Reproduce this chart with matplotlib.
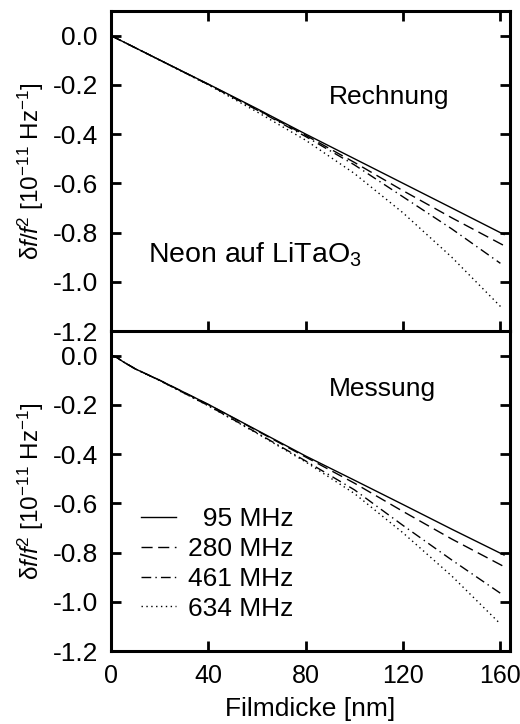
import matplotlib
matplotlib.use("Agg")
import matplotlib.pyplot as plt

plt.rcParams.update({
    "font.family": ["Liberation Sans", "DejaVu Sans"],
    "font.size": 19,
    "mathtext.fontset": "custom",
    "mathtext.rm": "Liberation Sans",
    "mathtext.it": "Liberation Sans:italic",
    "axes.linewidth": 2.2,
})

FREQS = ["95 MHz", "280 MHz", "461 MHz", "634 MHz"]

# calculated curves (Rechnung)
X_CALC = [
    [0, 20, 40, 60, 80, 100, 120, 140, 161.5],
    [0, 20, 40, 60, 80, 100, 120, 140, 161.5],
    [0, 20, 40, 60, 80, 100, 120, 140, 160],
    [0, 20, 40, 60, 80, 100, 120, 140, 161],
]
Y_CALC = [
    [0, -0.099, -0.197, -0.297, -0.400, -0.500, -0.600, -0.700, -0.808],
    [0, -0.099, -0.198, -0.300, -0.405, -0.515, -0.630, -0.740, -0.853],
    [0, -0.099, -0.199, -0.302, -0.410, -0.525, -0.655, -0.785, -0.925],
    [0, -0.100, -0.200, -0.310, -0.425, -0.560, -0.720, -0.900, -1.110],
]

# measured curves (Messung)
X_MEAS = [
    [0, 2, 5, 10, 20, 40, 60, 80, 100, 120, 140, 161.5],
    [0, 2, 5, 10, 20, 40, 60, 80, 100, 120, 140, 161.5],
    [0, 2, 5, 10, 20, 40, 60, 80, 100, 120, 140, 161],
    [0, 2, 5, 10, 20, 40, 60, 80, 100, 120, 140, 160],
]
Y_MEAS = [
    [0, -0.005, -0.025, -0.054, -0.100, -0.198, -0.303, -0.408, -0.506, -0.605, -0.705, -0.810],
    [0, -0.005, -0.025, -0.054, -0.100, -0.199, -0.305, -0.412, -0.518, -0.633, -0.745, -0.857],
    [0, -0.005, -0.025, -0.054, -0.101, -0.203, -0.314, -0.428, -0.545, -0.690, -0.830, -0.972],
    [0, -0.005, -0.025, -0.054, -0.101, -0.204, -0.316, -0.432, -0.560, -0.720, -0.895, -1.090],
]

STYLES = [
    dict(linestyle="-"),
    dict(linestyle=(0, (8, 4))),
    dict(linestyle=(0, (7, 3, 1, 3))),
    dict(linestyle=(0, (1, 2.5))),
]

YTICKS = [0.0, -0.2, -0.4, -0.6, -0.8, -1.0, -1.2]
YLABEL = "δ$f$/$f$$^2$ [10$^{-11}$ Hz$^{-1}$]"


def style_axes(ax, top_ticks):
    ax.set_xlim(0, 164)
    ax.set_ylim(-1.2, 0.1)
    ax.set_xticks([0, 40, 80, 120, 160])
    ax.set_yticks(YTICKS)
    ax.set_yticklabels([f"{v:.1f}" for v in YTICKS])
    ax.tick_params(direction="in", length=7, width=2, right=True, top=top_ticks)
    ax.tick_params(axis="y", pad=9.5, labelsize=19)
    ax.tick_params(axis="x", pad=9, labelsize=18)
    ax.set_ylabel(YLABEL, fontsize=17.5, labelpad=5)


fig = plt.figure(figsize=(5.2, 7.24), dpi=100)
ax1 = fig.add_axes([0.2135, 0.5428, 0.7675, 0.442])
ax2 = fig.add_axes([0.2135, 0.1008, 0.7675, 0.442])
ax2.patch.set_visible(False)

for xs, ys, st in zip(X_CALC, Y_CALC, STYLES):
    ax1.plot(xs, ys, color="black", lw=1.0, **st)
for xs, ys, st, lab in zip(X_MEAS, Y_MEAS, STYLES, FREQS):
    ax2.plot(xs, ys, color="black", lw=1.0, label=lab, **st)

style_axes(ax1, top_ticks=True)
style_axes(ax2, top_ticks=False)
ax1.tick_params(labelbottom=False)
ax2.spines["top"].set_visible(False)

ax2.set_xlabel("Filmdicke [nm]", labelpad=7)

ax1.text(89.5, -0.25, "Rechnung", ha="left", va="center")
ax1.text(15, -0.89, "Neon auf LiTaO$_3$", ha="left", va="center", fontsize=20.5)
ax2.text(89.5, -0.135, "Messung", ha="left", va="center")

labels = ["  95 MHz", "280 MHz", "461 MHz", "634 MHz"]
handles = ax2.get_lines()
ax2.legend(handles, labels, loc="lower left", bbox_to_anchor=(0.075, 0.095),
           frameon=False, handlelength=1.33, handletextpad=0.45,
           labelspacing=0.22, borderpad=0, borderaxespad=0)

fig.savefig("out.png", dpi=100)
